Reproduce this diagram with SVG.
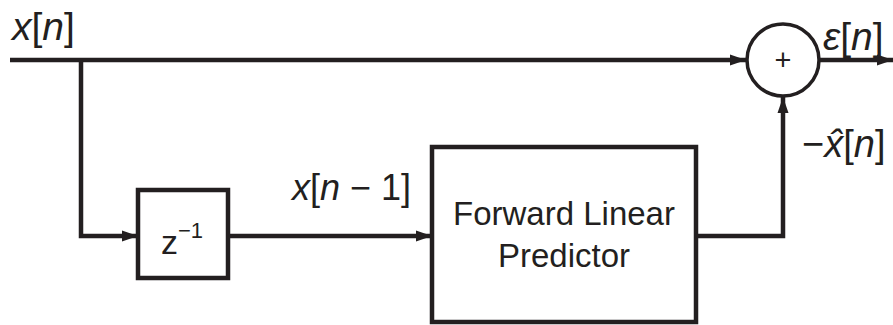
<svg xmlns="http://www.w3.org/2000/svg" width="893" height="325" viewBox="0 0 893 325">
<style>
.t{font-family:"Liberation Sans",Arial,sans-serif;fill:#231f20}
.i{font-style:italic}
.ln{fill:none;stroke:#231f20;stroke-width:4.5;stroke-linejoin:miter}
.box{fill:#fff;stroke:#231f20;stroke-width:4.5}
</style>
<defs>
<marker id="ah" markerUnits="userSpaceOnUse" markerWidth="18" markerHeight="12" refX="16" refY="6" orient="auto">
<path d="M0,0.5 L16,6 L0,11.5 z" fill="#231f20"/>
</marker>
</defs>
<g id="connectors">
<path class="ln" d="M10 60 H746" stroke-width="5" marker-end="url(#ah)"/>
<path class="ln" d="M81 60 V236 H138" marker-end="url(#ah)"/>
<path class="ln" d="M228 236 H432" marker-end="url(#ah)"/>
<path class="ln" d="M696 236 H783 V97" marker-end="url(#ah)"/>
<path class="ln" d="M819 60 H893" marker-end="url(#ah)"/>
</g>
<g id="delay">
<rect class="box" x="138" y="190" width="90" height="88"/>
<text class="t" x="161" y="254" font-size="34">z<tspan font-size="22" dy="-16">−1</tspan></text>
</g>
<g id="predictor">
<rect class="box" x="432" y="147" width="264" height="175"/>
<text class="t" x="564" y="225" font-size="33" text-anchor="middle">Forward Linear</text>
<text class="t" x="564" y="267" font-size="33" text-anchor="middle">Predictor</text>
</g>
<g id="sum">
<circle cx="783" cy="60" r="36" fill="#fff" stroke="#231f20" stroke-width="3.5"/>
<text class="t" x="783" y="70" font-size="29" text-anchor="middle">+</text>
</g>
<g id="labels">
<text class="t" x="12" y="40" font-size="39"><tspan class="i">x</tspan>[<tspan class="i">n</tspan>]</text>
<text class="t" x="823" y="50" font-size="39"><tspan class="i">ε</tspan>[<tspan class="i">n</tspan>]</text>
<text class="t" x="802" y="157" font-size="38">−<tspan class="i">x̂</tspan>[<tspan class="i">n</tspan>]</text>
<text class="t" x="292" y="200" font-size="36"><tspan class="i">x</tspan>[<tspan class="i">n</tspan> − 1]</text>
</g>
</svg>
